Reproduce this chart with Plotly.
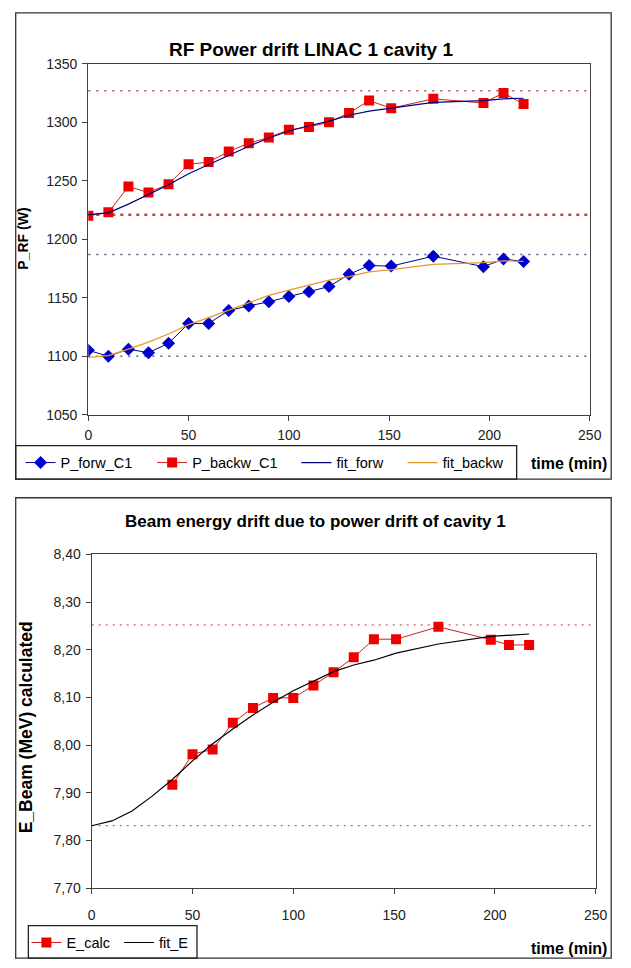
import plotly.graph_objects as go

# ---------------- data: top chart (RF power) ----------------
T_RF = [0, 10, 20, 30, 40, 50, 60, 70, 80, 90, 100, 110, 120, 130, 140, 151, 172, 197, 207, 217]
P_FORW_C1 = [1105, 1100, 1106, 1103, 1111, 1128, 1128, 1139, 1143, 1146.5, 1151, 1155, 1159.5, 1170,
             1177.5, 1177, 1185.5, 1176.5, 1183, 1181]
P_BACKW_C1 = [1220, 1223, 1245, 1240, 1247, 1264, 1266, 1275, 1282, 1287, 1293.5, 1296, 1300, 1308,
              1318.5, 1312, 1320, 1316.5, 1325, 1315.5]
FIT_FORW = [1221, 1222.5, 1230, 1238, 1246.5, 1256, 1264, 1272, 1279.5, 1286.5, 1292.5, 1297, 1301,
            1306, 1309.5, 1312, 1317, 1318.5, 1320, 1320.5]
FIT_BACKW = [1099, 1100.5, 1106, 1112, 1119, 1127, 1133, 1139.5, 1146, 1152, 1156.5, 1160.5, 1165,
             1168, 1172, 1174, 1178.5, 1180, 1181.5, 1181]
RF_REF_RED = [1327, 1221]
RF_REF_BLUE = [1187, 1100]
RF_TICKS = [1050, 1100, 1150, 1200, 1250, 1300, 1350]

# ---------------- data: bottom chart (beam energy) ----------------
T_E_CALC = [40, 50, 60, 70, 80, 90, 100, 110, 120, 130, 140, 151, 172, 198, 207, 217]
E_CALC = [7.917, 7.981, 7.991, 8.047, 8.078, 8.099, 8.099, 8.125, 8.153, 8.184, 8.222, 8.222,
          8.248, 8.221, 8.21, 8.21]
T_FIT_E = [0, 10, 20, 30, 40, 50, 60, 70, 80, 90, 100, 110, 120, 130, 140, 151, 172, 198, 207, 217]
FIT_E = [7.831, 7.841, 7.862, 7.893, 7.928, 7.967, 8.003, 8.034, 8.063, 8.09, 8.114, 8.134, 8.154,
         8.168, 8.178, 8.193, 8.212, 8.228, 8.23, 8.233]
E_REF = [8.252, 7.831]
E_TICKS = [7.70, 7.80, 7.90, 8.00, 8.10, 8.20, 8.30, 8.40]
E_TICK_LABELS = ["7,70", "7,80", "7,90", "8,00", "8,10", "8,20", "8,30", "8,40"]
T_TICKS = [0, 50, 100, 150, 200, 250]

W, H = 631, 968
FONT = "Liberation Sans, Arial, sans-serif"


def px(x):
    return x / W


def py(y):
    return 1 - y / H


fig = go.Figure()

# top chart traces (each legend entry in its own legend so spacing can match)
fig.add_trace(go.Scatter(x=T_RF, y=P_FORW_C1, name="P_forw_C1", mode="lines+markers",
                         line=dict(color="#000080", width=1),
                         marker=dict(symbol="diamond", size=10, color="#0000CC"),
                         xaxis="x", yaxis="y", legend="legend"))
fig.add_trace(go.Scatter(x=T_RF, y=P_BACKW_C1, name="P_backw_C1", mode="lines+markers",
                         line=dict(color="#CC2020", width=1),
                         marker=dict(symbol="square", size=10, color="#EE0000"),
                         xaxis="x", yaxis="y", legend="legend3"))
fig.add_trace(go.Scatter(x=T_RF, y=FIT_FORW, name="fit_forw", mode="lines",
                         line=dict(color="#000080", width=1.2),
                         xaxis="x", yaxis="y", legend="legend4"))
fig.add_trace(go.Scatter(x=T_RF, y=FIT_BACKW, name="fit_backw", mode="lines",
                         line=dict(color="#E8962A", width=1.2),
                         xaxis="x", yaxis="y", legend="legend5"))

# bottom chart traces
fig.add_trace(go.Scatter(x=T_E_CALC, y=E_CALC, name="E_calc", mode="lines+markers",
                         line=dict(color="#CC2020", width=1),
                         marker=dict(symbol="square", size=10, color="#EE0000"),
                         xaxis="x2", yaxis="y2", legend="legend2"))
fig.add_trace(go.Scatter(x=T_FIT_E, y=FIT_E, name="fit_E", mode="lines",
                         line=dict(color="#000000", width=1.2),
                         xaxis="x2", yaxis="y2", legend="legend6"))

shapes = []
# reference dotted lines
for i, v in enumerate(RF_REF_RED):
    shapes.append(dict(type="line", xref="x domain", yref="y", x0=0, x1=1, y0=v, y1=v,
                       line=dict(color="#D04040", width=2.5 if i == 1 else 1.5,
                                 dash="3px,5px" if i == 1 else "2px,6px"), layer="below"))
for v in RF_REF_BLUE:
    shapes.append(dict(type="line", xref="x domain", yref="y", x0=0, x1=1, y0=v, y1=v,
                       line=dict(color="#5060A0", width=1.5, dash="2px,6px"), layer="below"))
for v in E_REF:
    shapes.append(dict(type="line", xref="x2 domain", yref="y2", x0=0, x1=1, y0=v, y1=v,
                       line=dict(color="#D06060", width=1.2, dash="2px,5px"), layer="below"))
# outer chart boxes
shapes.append(dict(type="rect", xref="paper", yref="paper", x0=px(12), x1=px(623), y0=py(479), y1=py(5),
                   line=dict(color="#333333", width=1.3)))
shapes.append(dict(type="rect", xref="paper", yref="paper", x0=px(12), x1=px(623), y0=py(966), y1=py(498),
                   line=dict(color="#333333", width=1.3)))
# legend boxes
shapes.append(dict(type="rect", xref="paper", yref="paper", x0=px(12), x1=px(526), y0=py(479), y1=py(445),
                   line=dict(color="#222222", width=1.3)))
shapes.append(dict(type="rect", xref="paper", yref="paper", x0=px(25), x1=px(198), y0=py(966), y1=py(933),
                   line=dict(color="#222222", width=1.3)))

annotations = [
    dict(text="<b>RF Power drift LINAC 1 cavity 1</b>", x=px(315), y=py(29), xref="paper", yref="paper",
         xanchor="center", showarrow=False, font=dict(size=19, color="#000", family=FONT)),
    dict(text="<b>Beam energy drift due to power drift of cavity 1</b>", x=px(320), y=py(522),
         xref="paper", yref="paper", xanchor="center", showarrow=False,
         font=dict(size=17, color="#000", family=FONT)),
    dict(text="<b>P_RF (W)</b>", x=px(20), y=py(234), xref="paper", yref="paper", textangle=-90,
         xanchor="center", yanchor="middle", showarrow=False,
         font=dict(size=14, color="#000", family=FONT)),
    dict(text="<b>E_Beam (MeV) calculated</b>", x=px(22), y=py(731), xref="paper", yref="paper",
         textangle=-90, xanchor="center", yanchor="middle", showarrow=False,
         font=dict(size=17.5, color="#000", family=FONT)),
    dict(text="<b>time (min)</b>", x=px(580), y=py(463), xref="paper", yref="paper",
         xanchor="center", yanchor="middle", showarrow=False,
         font=dict(size=16, color="#000", family=FONT)),
    dict(text="<b>time (min)</b>", x=px(580), y=py(956), xref="paper", yref="paper",
         xanchor="center", yanchor="middle", showarrow=False,
         font=dict(size=16, color="#000", family=FONT)),
]

axis_common = dict(showgrid=False, zeroline=False, showline=True, mirror=True, linecolor="#404040",
                   linewidth=1.3, ticks="outside", ticklen=5, tickcolor="#404040",
                   tickfont=dict(size=14, color="#222", family=FONT))


def leg(x0, y0):
    return dict(orientation="h", x=px(x0), y=py(y0), xanchor="left", yanchor="top",
                borderwidth=0, bgcolor="rgba(0,0,0,0)",
                font=dict(size=14.5, color="#000", family=FONT), itemwidth=30)


fig.update_layout(
    width=W, height=H, margin=dict(l=0, r=0, t=0, b=0),
    paper_bgcolor="white", plot_bgcolor="white",
    font=dict(family=FONT, color="#000"),
    xaxis=dict(domain=[px(86.5), px(601)], range=[0, 250], tickvals=T_TICKS, anchor="y",
               ticklabelstandoff=2, **axis_common),
    yaxis=dict(domain=[py(413.5), py(56.7)], range=[1050, 1350], tickvals=RF_TICKS, anchor="x",
               ticklabelstandoff=2, **axis_common),
    xaxis2=dict(domain=[px(90), px(607)], range=[0, 250], tickvals=T_TICKS, anchor="y2",
                ticklabelstandoff=9, **axis_common),
    yaxis2=dict(domain=[py(895), py(555.5)], range=[7.7, 8.4], tickvals=E_TICKS,
                ticktext=E_TICK_LABELS, anchor="x2", ticklabelstandoff=2, **axis_common),
    legend=leg(17, 446),
    legend3=leg(152, 446),
    legend4=leg(300, 446),
    legend5=leg(409, 446),
    legend2=leg(23, 934),
    legend6=leg(118, 934),
    shapes=shapes,
    annotations=annotations,
    showlegend=True,
)

fig.write_html("out.html")
